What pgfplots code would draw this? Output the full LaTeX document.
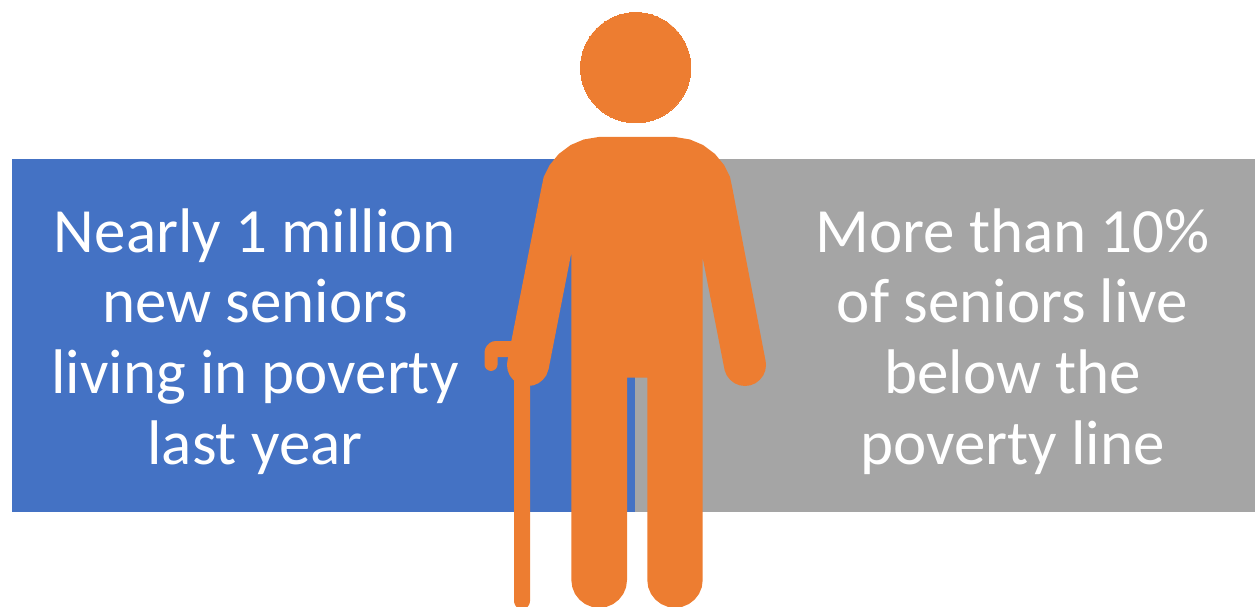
\documentclass[border=0pt]{standalone}
\usepackage{pgfplots}
\pgfplotsset{compat=1.18}
\usepackage{fontspec}
\setmainfont{Carlito}
\definecolor{panelblue}{HTML}{4472C4}
\definecolor{panelgrey}{HTML}{A5A5A5}
\definecolor{personorange}{HTML}{ED7D31}
\tikzset{caption/.style={anchor=base, text=white, inner sep=0pt, font=\fontsize{63}{71}\selectfont}}
\begin{document}
\begin{tikzpicture}
% fixed canvas, so that the white margin around the panels is kept
\useasboundingbox (0,0) rectangle (1255pt,607pt);
\begin{axis}[
  at={(0,0)}, anchor=south west,
  scale only axis, width=1255pt, height=607pt,
  xmin=0, xmax=1255, ymin=0, ymax=607,
  y dir=reverse, axis lines=none, clip=true,
  every axis plot/.append style={draw=none, line width=0pt, mark=none},
]
% background panels
\addplot[fill=panelblue] coordinates {(12,159) (635,159) (635,512) (12,512)};
\addplot[fill=panelgrey] coordinates {(635,159) (1255,159) (1255,512) (635,512)};

% cane shaft
\addplot[fill=personorange] coordinates {
  (514,370) (530,370) (530,601) (529.7,603) (528.9,605) (527.7,606.7) (526,608) (524,608.7) (522,609)
  (520,608.7) (518,608) (516.3,606.7) (515.1,605) (514.3,603) (514,601)};
% cane handle
\addplot[fill=personorange] coordinates {
  (514,341) (496,341) (492.5,341.5) (489.5,343) (487,345.5) (485.3,348.5) (484.5,352)
  (484.5,364.5) (485,367) (486.4,369) (488.5,370.4) (491,371) (493.5,370.4) (495.6,369) (497,367) (497.6,364.5)
  (497.6,357) (514,357)};

% body, arms and legs
\addplot[fill=personorange] coordinates {
  (598.7,137) (675,137) (690,139.5) (703,145) (715,154) (724,165) (730,177) (732.7,190)
  (765.6,361) (766,365) (765.3,370.4) (763.2,375.5) (759.8,379.8) (755.5,383.2) (750.4,385.3) (745,386)
  (739.6,385.3) (734.5,383.2) (730.2,379.8) (726.8,375.5) (724.7,370.4) (724.4,369)
  (702.7,258)
  (702.7,580) (701.8,587.2) (699,593.9) (694.6,599.6) (688.9,604) (682.2,606.8) (675,607.7)
  (667.8,606.8) (661.1,604) (655.4,599.6) (651,593.9) (648.2,587.2) (647.3,580)
  (647.3,377.7) (627,377.7)
  (627,580) (626.1,587.2) (623.3,593.9) (618.8,599.7) (613.1,604.1) (606.4,606.9) (599.2,607.9)
  (592,606.9) (585.2,604.1) (579.5,599.7) (575,593.9) (572.3,587.2) (571.3,580)
  (571.3,253)
  (548.6,369) (546.2,375.5) (542.8,379.8) (538.5,383.2) (533.4,385.3) (528,386)
  (522.6,385.3) (517.5,383.2) (513.2,379.8) (509.8,375.5) (507.7,370.4) (507,365) (507.4,361)
  (541,190) (543.7,177) (549.7,165) (558.7,154) (570.7,145) (583.7,139.5)};

% head
\addplot[only marks, draw=personorange, mark=*, mark size=55.2pt,
  mark options={fill=personorange, draw=personorange, line width=0pt}]
  coordinates {(635.7,67.7)};

% captions, one node per line
\node[caption] at (axis cs:255,252) {Nearly 1 million};
\node[caption] at (axis cs:255,322) {new seniors};
\node[caption] at (axis cs:255,393) {living in poverty};
\node[caption] at (axis cs:255,464) {last year};
\node[caption] at (axis cs:1012.5,252) {More than 10\%};
\node[caption] at (axis cs:1012.5,322) {of seniors live};
\node[caption] at (axis cs:1012.5,393) {below the};
\node[caption] at (axis cs:1012.5,464) {poverty line};
\end{axis}
\end{tikzpicture}
\end{document}
